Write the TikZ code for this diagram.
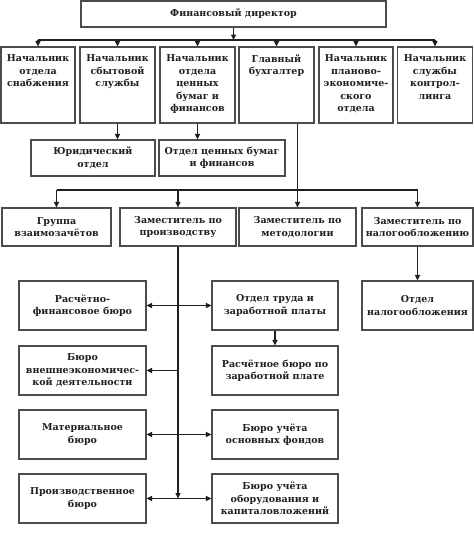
\documentclass[tikz,border=0pt]{standalone}
\usepackage{fontspec}
\setmainfont{DejaVu Serif}
\usetikzlibrary{arrows.meta}
\begin{document}
\begin{tikzpicture}[x=1pt,y=-1pt,
  every node/.style={font=\bfseries\fontsize{9.5}{12.5}\selectfont, text=black!88},
  box/.style={draw=black!70, line width=1.1pt, inner sep=0pt, align=center},
  txt/.style={inner sep=0pt, align=center},
  ln/.style={draw=black!88, line width=1.1pt},
  arr/.style={ln, -{Triangle[length=5.5pt,width=5pt]}},
  dbl/.style={ln, {Triangle[length=5.5pt,width=5pt]}-{Triangle[length=5.5pt,width=5pt]}}]
\useasboundingbox (0,0) rectangle (474,536);
\fill[white] (0,0) rectangle (474,536);

% director
\node[box, minimum width=305pt, minimum height=26pt] (dir) at (233.5,14) {Финансовый директор};

% row 1
\tikzset{topbox/.style={box, minimum height=76pt}}
\node[topbox, minimum width=74pt] (b1) at (38,85) {};
\node[topbox, minimum width=75pt] (b2) at (117.5,85) {};
\node[topbox, minimum width=75pt] (b3) at (197.5,85) {};
\node[topbox, minimum width=75pt] (b4) at (276.5,85) {};
\node[topbox, minimum width=74pt] (b5) at (356,85) {};
\node[topbox, minimum width=75pt] (b6) at (435,85) {};
\node[txt, anchor=north] (b1t) at ([yshift=-8pt]b1.north) {Начальник\\отдела\\снабжения};
\node[txt, anchor=north] (b2t) at ([yshift=-8pt]b2.north) {Начальник\\сбытовой\\службы};
\node[txt, anchor=north] (b3t) at ([yshift=-8pt]b3.north) {Начальник\\отдела\\ценных\\бумаг и\\финансов};
\node[txt, anchor=north] (b4t) at ([yshift=-8pt]b4.north) {Главный\\бухгалтер};
\node[txt, anchor=north] (b5t) at ([yshift=-8pt]b5.north) {Начальник\\планово-\\экономиче-\\ского\\отдела};
\node[txt, anchor=north] (b6t) at ([yshift=-8pt]b6.north) {Начальник\\службы\\контрол-\\линга};

% row 2
\node[box, minimum width=124pt, minimum height=36pt] (yur) at (93,158) {Юридический\\отдел};
\node[box, minimum width=126pt, minimum height=36pt] (ceny) at (222,158) {Отдел ценных бумаг\\и финансов};

% row 3
\node[box, minimum width=109pt, minimum height=38pt] (grp) at (56.5,227) {Группа\\взаимозачётов};
\node[box, minimum width=116pt, minimum height=38pt] (proizv) at (178,227) {Заместитель по\\производству};
\node[box, minimum width=117pt, minimum height=38pt] (met) at (297.5,227) {Заместитель по\\методологии};
\node[box, minimum width=111pt, minimum height=38pt] (nal) at (417.5,227) {Заместитель по\\налогообложению};

% lower
\node[box, minimum width=111pt, minimum height=49pt] (otdnal) at (417.5,305.5) {Отдел\\налогообложения};
\tikzset{lbox/.style={box, minimum width=127pt, minimum height=49pt},
         rbox/.style={box, minimum width=126pt, minimum height=49pt}}
\node[lbox] (lA) at (82.5,305.5) {Расчётно-\\финансовое бюро};
\node[lbox] (lB) at (82.5,370.5) {Бюро\\внешнеэкономичес-\\кой деятельности};
\node[lbox] (lC) at (82.5,434.5) {Материальное\\бюро};
\node[lbox] (lD) at (82.5,498.5) {Производственное\\бюро};
\node[rbox] (rA) at (275,305.5) {Отдел труда  и\\заработной платы};
\node[rbox] (rB) at (275,370.5) {Расчётное бюро по\\заработной плате};
\node[rbox] (rC) at (275,434.5) {Бюро учёта\\основных фондов};
\node[rbox] (rD) at (275,498.5) {Бюро учёта\\оборудования и\\капиталовложений};

% connectors
\coordinate (bus1) at (0,40);
\coordinate (bus2) at (0,190);
\draw[arr] (dir.south) -- (dir.south |- bus1);
\draw[ln] (b1.north |- bus1) -- (b6.north |- bus1);
\foreach \n in {b1,b2,b3,b4,b5,b6} \draw[arr] (\n.north |- bus1) -- (\n.north);
\draw[arr] (b2.south) -- (b2.south |- yur.north);
\draw[arr] (b3.south) -- (b3.south |- ceny.north);
\draw[arr] (met.north |- b4.south) -- (met.north);
\draw[ln] (grp.north |- bus2) -- (nal.north |- bus2);
\foreach \n in {grp,proizv,nal} \draw[arr] (\n.north |- bus2) -- (\n.north);
\draw[arr] (nal.south) -- (otdnal.north);
\coordinate (spend) at (proizv.south |- lD.east);
\draw[arr] (proizv.south) -- (spend);
\draw[dbl] (lA.east) -- (rA.west);
\draw[arr] (proizv.south |- lB.east) -- (lB.east);
\draw[arr] (rA.south) -- (rB.north);
\draw[dbl] (lC.east) -- (rC.west);
\draw[dbl] (lD.east) -- (rD.west);
\end{tikzpicture}
\end{document}
